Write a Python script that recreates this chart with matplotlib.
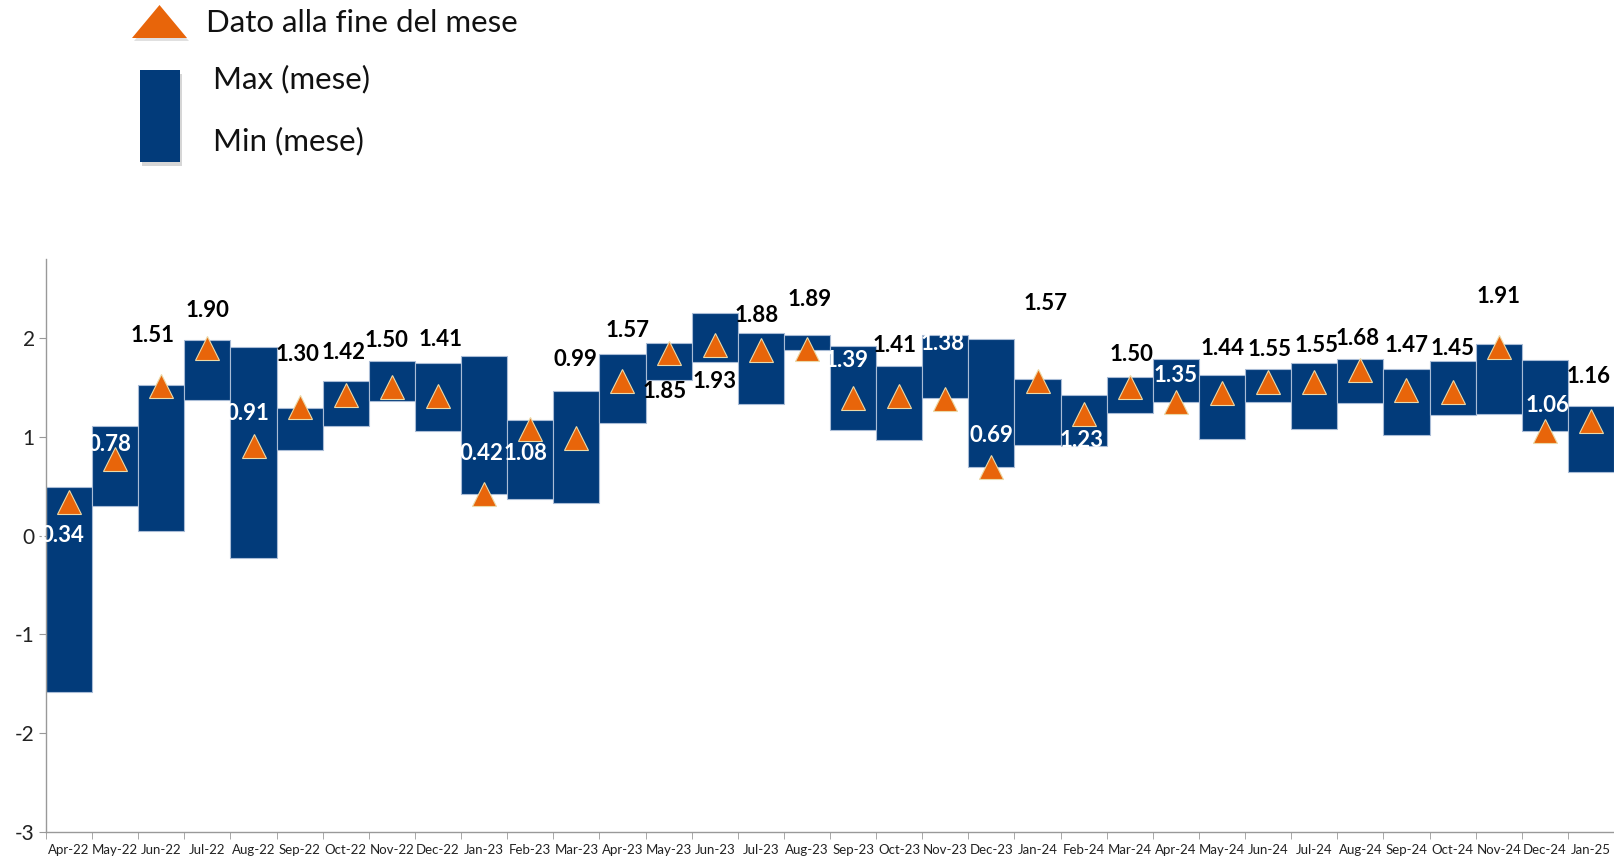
import matplotlib
matplotlib.use("Agg")
import matplotlib.pyplot as plt
from matplotlib.patches import Polygon, Rectangle
import numpy as np

months = ["Apr-22", "May-22", "Jun-22", "Jul-22", "Aug-22", "Sep-22", "Oct-22", "Nov-22",
          "Dec-22", "Jan-23", "Feb-23", "Mar-23", "Apr-23", "May-23", "Jun-23", "Jul-23",
          "Aug-23", "Sep-23", "Oct-23", "Nov-23", "Dec-23", "Jan-24", "Feb-24", "Mar-24",
          "Apr-24", "May-24", "Jun-24", "Jul-24", "Aug-24", "Sep-24", "Oct-24", "Nov-24",
          "Dec-24", "Jan-25"]
max_vals = [0.49, 1.11, 1.52, 1.98, 1.91, 1.29, 1.57, 1.77, 1.75, 1.82, 1.17, 1.46,
            1.84, 1.95, 2.25, 2.05, 2.03, 1.92, 1.72, 2.03, 1.99, 1.59, 1.42, 1.61,
            1.79, 1.63, 1.69, 1.75, 1.79, 1.69, 1.77, 1.94, 1.78, 1.31]
min_vals = [-1.58, 0.30, 0.05, 1.37, -0.23, 0.87, 1.11, 1.36, 1.06, 0.42, 0.37, 0.33,
            1.14, 1.58, 1.76, 1.33, 1.88, 1.07, 0.97, 1.39, 0.69, 0.92, 0.91, 1.24,
            1.35, 0.98, 1.35, 1.08, 1.34, 1.02, 1.22, 1.23, 1.06, 0.64]
end_vals = [0.34, 0.78, 1.51, 1.90, 0.91, 1.30, 1.42, 1.50, 1.41, 0.42, 1.08, 0.99,
            1.57, 1.85, 1.93, 1.88, 1.89, 1.39, 1.41, 1.38, 0.69, 1.57, 1.23, 1.50,
            1.35, 1.44, 1.55, 1.55, 1.68, 1.47, 1.45, 1.91, 1.06, 1.16]

# label placement (style / layout, not data)
label_y = [0.0, 0.92, 2.03, 2.28, 1.24, 1.83, 1.85, 1.97, 1.99, 0.83, 0.83, 1.78,
           2.08, 1.46, 1.56, 2.23, 2.39, 1.77, 1.92, 1.94, 1.01, 2.35, 0.96, 1.83,
           1.62, 1.89, 1.88, 1.92, 2.00, 1.92, 1.89, 2.42, 1.32, 1.61]
label_dx = [-0.15, -0.12, -0.2, 0.0, -0.13, -0.05, -0.05, -0.12, 0.05, -0.06, -0.1, -0.03,
            0.12, -0.08, 0.0, -0.08, 0.05, -0.15, -0.09, -0.05, 0.0, 0.18, -0.04, 0.03,
            0.0, 0.02, 0.04, 0.04, -0.05, 0.0, 0.0, 0.0, 0.06, -0.05]
white_labels = {0, 1, 4, 9, 10, 17, 19, 20, 22, 24, 32}

NAVY = "#023B7A"
ORANGE = "#E8650A"

W, H = 1614, 859
fig = plt.figure(figsize=(W / 100, H / 100), dpi=100)
ax = fig.add_axes([46 / W, (H - 832) / H, (W - 46) / W, (832 - 259) / H])

x = np.arange(len(months))
heights = np.array(max_vals) - np.array(min_vals)
ax.bar(x, heights, bottom=min_vals, width=1.0, color=NAVY, edgecolor="#A9BCD6",
       linewidth=0.8, zorder=2)
ax.plot(x, end_vals, linestyle="none", marker="^", markersize=17, color=ORANGE,
        markeredgecolor="#EAD9A8", markeredgewidth=0.8, zorder=3)

for i, v in enumerate(end_vals):
    col = "white" if i in white_labels else "black"
    ax.text(x[i] + label_dx[i], label_y[i], f"{v:.2f}", ha="center", va="center",
            fontsize=16, fontweight="bold", family="Lato", color=col, zorder=4)

ax.set_xlim(-0.5, len(months) - 0.5)
ax.set_ylim(-3, 2.8)
ax.set_yticks([-3, -2, -1, 0, 1, 2])
ax.set_yticklabels(["-3", "-2", "-1", "0", "1", "2"], family="Lato", fontsize=15,
                   color="#222222")
ax.set_xticks(x)
ax.set_xticklabels(months, family="Lato", fontsize=9.5, color="#222222")
ax.set_xticks(np.arange(len(months) + 1) - 0.5, minor=True)
ax.tick_params(axis="x", which="major", length=0, pad=9)
ax.tick_params(axis="x", which="minor", length=5, color="#999999")
ax.tick_params(axis="y", length=5, color="#999999", pad=3)
for s in ["top", "right"]:
    ax.spines[s].set_visible(False)
for s in ["left", "bottom"]:
    ax.spines[s].set_color("#999999")
    ax.spines[s].set_linewidth(1.0)

# legend drawn in figure pixel coordinates
def fx(px):
    return px / W

def fy(py):
    return 1 - py / H

fig.patches.append(Polygon([(fx(134), fy(41)), (fx(189), fy(41)), (fx(161), fy(9))],
                           closed=True, transform=fig.transFigure, facecolor="#CCCCCC",
                           edgecolor="none", alpha=0.6))
fig.patches.append(Polygon([(fx(132), fy(38)), (fx(187), fy(38)), (fx(159.5), fy(5))],
                           closed=True, transform=fig.transFigure, facecolor=ORANGE,
                           edgecolor="none"))
fig.patches.append(Rectangle((fx(142), fy(166)), fx(40), 92 / H, transform=fig.transFigure,
                             facecolor="#BBBBBB", edgecolor="none", alpha=0.6))
fig.patches.append(Rectangle((fx(140), fy(162)), fx(40), 92 / H, transform=fig.transFigure,
                             facecolor=NAVY, edgecolor="none"))

fig.text(fx(206), fy(23), "Dato alla fine del mese", family="Lato", fontsize=22.5,
         va="center", ha="left", color="#111111")
fig.text(fx(213), fy(79), "Max (mese)", family="Lato", fontsize=22.5,
         va="center", ha="left", color="#111111")
fig.text(fx(213), fy(141), "Min (mese)", family="Lato", fontsize=22.5,
         va="center", ha="left", color="#111111")

fig.savefig("out.png", dpi=100)
